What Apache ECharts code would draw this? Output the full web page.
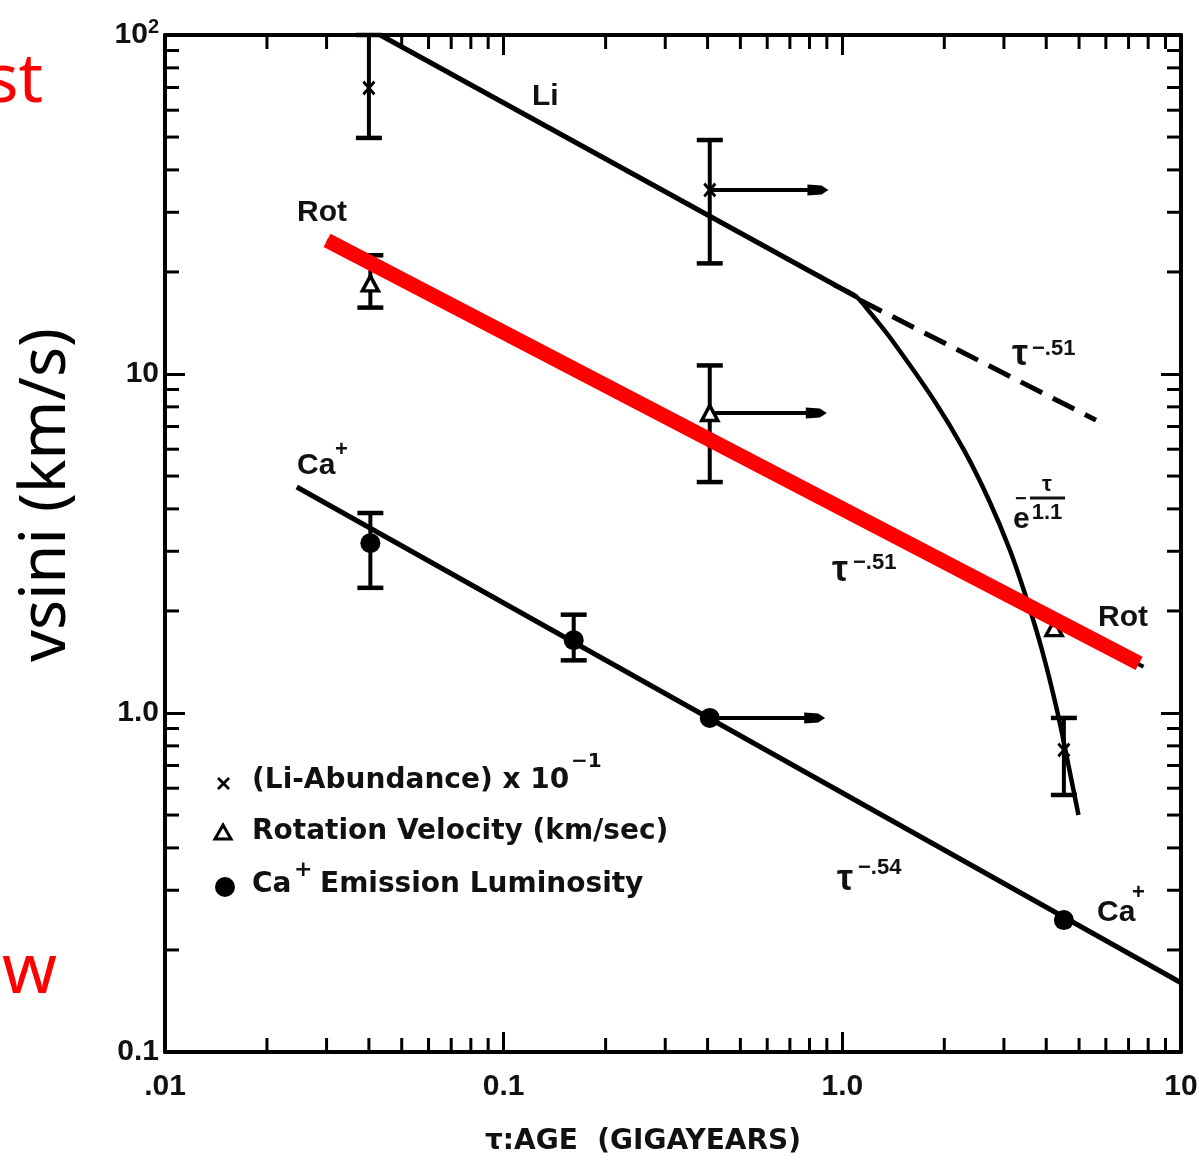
<!DOCTYPE html>
<html><head><meta charset="utf-8">
<script src="https://cdn.jsdelivr.net/npm/echarts@6/dist/echarts.min.js"></script>
<style>html,body{margin:0;padding:0;background:#fff}#c{width:1199px;height:1161px}</style>
</head><body><div id="c"></div><script>
// ---- axis ticks / labels ----
const xDecades = [0.01, 0.1, 1, 10];
const xTickLabels = ['.01', '0.1', '1.0', '10'];
const yDecades = [0.1, 1, 10, 100];
const yTickLabels = ['0.1', '1.0', '10', '{b|10}{s|2}'];
const xMinorTicks = [0.02,0.03,0.04,0.05,0.06,0.07,0.08,0.09,0.2,0.3,0.4,0.5,0.6,0.7,0.8,0.9,2,3,4,5,6,7,8,9];
const yMinorTicks = [0.2,0.3,0.4,0.5,0.6,0.7,0.8,0.9,2,3,4,5,6,7,8,9,20,30,40,50,60,70,80,90];

// ---- fitted lines (age Gyr, value) ----
const liLine = [[0.0432,100],[1.10,16.9]];
const liExpCurve = [[0.943,18.3],[1.10,16.9],[1.2,15.3],[1.40,12.6],[1.863,8.38],[2.285,5.97],[2.708,4.25],[3.124,3.025],[3.509,2.154],[3.886,1.534],[4.303,1.02],[4.638,0.712],[4.981,0.50]];
const liPowerDashed = [[1.13,16.5],[5.61,7.31]];
const rotFitBlack = [[0.0301,24.8],[7.75,1.37]];
const rotFitRed = [[0.0301,24.8],[7.52,1.40]];
const caFit = [[0.0245,4.64],[10,0.16]];

// ---- observations ----
const liPoints = [[0.04,69.8],[0.406,34.9],[4.51,0.778]];
const liErr = [[0.04,49.7,100],[0.406,21.2,49],[4.51,0.573,0.967]];
const rotPoints = [[0.0404,18.5],[0.406,7.67],[4.22,1.78]];
const rotErr = [[0.0404,15.7,22.4],[0.406,4.80,10.6]];
const caPoints = [[0.0404,3.17],[0.161,1.64],[0.406,0.967],[4.51,0.245]];
const caErr = [[0.0404,2.34,3.89],[0.161,1.43,1.95]];
const lowerLimitArrows = [[0.406,34.9,0.91],[0.406,7.67,0.90],[0.406,0.967,0.89]];

const BLK = '#000';
const tickFont = 'Liberation Sans';
const annFont = 'Liberation Sans';
const legFont = 'DejaVu Sans';
const X_PATH = 'path://M0,1.5L1.5,0L5,3.5L8.5,0L10,1.5L6.5,5L10,8.5L8.5,10L5,6.5L1.5,10L0,8.5L3.5,5Z';
const X_SHAPE = [[0,1.5],[1.5,0],[5,3.5],[8.5,0],[10,1.5],[6.5,5],[10,8.5],[8.5,10],[5,6.5],[1.5,10],[0,8.5],[3.5,5]];

function idxOf(arr, v){ let best=0, d=Infinity; arr.forEach((a,i)=>{const dd=Math.abs(Math.log10(a)-Math.log10(v)); if(dd<d){d=dd;best=i;}}); return best; }
function ln(x1,y1,x2,y2,w){ return {type:'line', shape:{x1,y1,x2,y2}, style:{stroke:BLK, lineWidth:w||3}}; }
function txt(x, y, s, size, font, align){
  return {type:'text', x, y, style:{text:s, fill:'#111', font:`bold ${size}px "${font}"`, textAlign:align||'left', textVerticalAlign:'middle'}};
}

const chart = echarts.init(document.getElementById('c'), null, {renderer:'canvas'});

const option = {
  animation:false,
  backgroundColor:'#fff',
  grid:{left:165, right:18, top:35, bottom:109, outerBoundsMode:'none', containLabel:false},
  xAxis:[
    {type:'log', logBase:10, min:0.01, max:10, position:'bottom',
     axisLine:{lineStyle:{color:BLK, width:4}},
     axisTick:{inside:true, length:20, lineStyle:{color:BLK, width:3}},
     axisLabel:{margin:20, color:'#111', fontFamily:tickFont, fontWeight:'bold', fontSize:30,
       formatter:v=>xTickLabels[idxOf(xDecades,v)]},
     splitLine:{show:false},
     name:'τ:AGE  (GIGAYEARS)', nameLocation:'middle', nameGap:76,
     nameTextStyle:{fontFamily:legFont, fontWeight:'bold', fontSize:28, color:'#111', padding:[0,60,0,0]}},
    {type:'log', logBase:10, min:0.01, max:10, position:'top',
     axisLine:{lineStyle:{color:BLK, width:4}},
     axisTick:{inside:true, length:20, lineStyle:{color:BLK, width:3}},
     axisLabel:{show:false}, splitLine:{show:false}}
  ],
  yAxis:[
    {type:'log', logBase:10, min:0.1, max:100, position:'left',
     axisLine:{lineStyle:{color:BLK, width:4}},
     axisTick:{inside:true, length:20, lineStyle:{color:BLK, width:3}},
     axisLabel:{margin:6, color:'#111', fontFamily:tickFont, fontWeight:'bold', fontSize:30,
       formatter:v=>yTickLabels[idxOf(yDecades,v)],
       rich:{b:{fontFamily:tickFont, fontWeight:'bold', fontSize:30, lineHeight:36, color:'#111'},
             s:{fontFamily:tickFont, fontWeight:'bold', fontSize:20, lineHeight:20, verticalAlign:'top', color:'#111'}}},
     splitLine:{show:false},
     name:'vsini (km/s)', nameLocation:'middle', nameGap:86, nameRotate:90,
     nameTextStyle:{fontFamily:'Noto Sans', fontSize:63, color:'#000', padding:[0,0,0,97]}},
    {type:'log', logBase:10, min:0.1, max:100, position:'right',
     axisLine:{lineStyle:{color:BLK, width:4}},
     axisTick:{inside:true, length:20, lineStyle:{color:BLK, width:3}},
     axisLabel:{show:false}, splitLine:{show:false}}
  ],
  series:[
    {type:'custom', name:'minorTicks', silent:true, clip:false, data:[[1,1]], z:1,
     renderItem:(params, api)=>{
       const cs = params.coordSys;
       const L = 14, left=cs.x, right=cs.x+cs.width, top=cs.y, bottom=cs.y+cs.height;
       const kids=[];
       xMinorTicks.forEach(v=>{ const px=api.coord([v,1])[0]; kids.push(ln(px,bottom,px,bottom-L,3)); kids.push(ln(px,top,px,top+L,3)); });
       yMinorTicks.forEach(v=>{ const py=api.coord([1,v])[1]; kids.push(ln(left,py,left+L,py,3)); kids.push(ln(right,py,right-L,py,3)); });
       return {type:'group', children:kids};
     }},
    {type:'line', name:'Li fit', data:liLine, showSymbol:false, lineStyle:{color:BLK, width:5}, z:2},
    {type:'line', name:'Li exp', data:liExpCurve, showSymbol:false, smooth:0.3, lineStyle:{color:BLK, width:4.5}, z:2},
    {type:'line', name:'Li power', data:liPowerDashed, showSymbol:false, lineStyle:{color:BLK, width:5, type:[24,12], cap:'butt'}, z:2},
    {type:'line', name:'Ca fit', data:caFit, showSymbol:false, lineStyle:{color:BLK, width:5}, z:2},
    {type:'line', name:'Rot fit', data:rotFitBlack, showSymbol:false, lineStyle:{color:BLK, width:4}, z:2},
    {type:'custom', name:'errors', data:[...liErr, ...rotErr, ...caErr], encode:{x:0, y:[1,2]}, z:3, clip:false,
     renderItem:(params, api)=>{
       const x=api.value(0), lo=api.value(1), hi=api.value(2);
       const p1=api.coord([x,hi]), p2=api.coord([x,lo]); const w=13;
       return {type:'group', children:[ln(p1[0],p1[1],p2[0],p2[1],4), ln(p1[0]-w,p1[1],p1[0]+w,p1[1],4.5), ln(p2[0]-w,p2[1],p2[0]+w,p2[1],4.5)]};
     }},
    {type:'custom', name:'limits', data:lowerLimitArrows, encode:{x:[0,2], y:1}, z:3,
     renderItem:(params, api)=>{
       const x1=api.value(0), y=api.value(1), x2=api.value(2);
       const a=api.coord([x1,y]), b=api.coord([x2,y]);
       return {type:'group', children:[
         ln(a[0],a[1],b[0]-14,b[1],4),
         {type:'polygon', shape:{points:[[b[0],b[1]],[b[0]-7,b[1]-4.5],[b[0]-21,b[1]-5.5],[b[0]-21,b[1]+5.5],[b[0]-7,b[1]+4.5]]}, style:{fill:BLK}}
       ]};
     }},
    {type:'scatter', name:'(Li-Abundance) x 10^-1', data:liPoints, symbol:X_PATH, symbolSize:[13,15], itemStyle:{color:BLK, opacity:1}, z:4},
    {type:'scatter', name:'Rotation Velocity (km/sec)', data:rotPoints, symbol:'triangle', symbolSize:[16,15], itemStyle:{color:'#fff', borderColor:BLK, borderWidth:3.5, opacity:1}, z:4},
    {type:'scatter', name:'Ca+ Emission Luminosity', data:caPoints, symbol:'circle', symbolSize:20, itemStyle:{color:BLK, opacity:1}, z:4},
    {type:'line', name:'Rot highlight', data:rotFitRed, showSymbol:false, lineStyle:{color:'#ff0000', width:15, cap:'butt'}, z:6}
  ],
  graphic:[
    {type:'text', x:43, y:117, style:{text:'st', fill:'#ff0000', font:'68px "Noto Sans"', textAlign:'right', textVerticalAlign:'bottom'}},
    {type:'text', x:2, y:1008, style:{text:'w', fill:'#ff0000', font:'70px "Noto Sans"', textAlign:'left', textVerticalAlign:'bottom'}},
    txt(532, 97, 'Li', 30, annFont),
    txt(297, 213, 'Rot', 30, annFont),
    txt(297, 466, 'Ca', 30, annFont), txt(335, 450, '+', 22, annFont),
    txt(1012, 355, 'τ', 36, annFont), txt(1032, 349, '−.51', 22, annFont),
    txt(1013, 520, 'e', 30, annFont), txt(1015, 499, '−', 20, annFont),
    txt(1047, 485, 'τ', 22, annFont, 'center'),
    {type:'line', shape:{x1:1030, y1:498, x2:1065, y2:498}, style:{stroke:'#111', lineWidth:3}},
    txt(1047, 513, '1.1', 22, annFont, 'center'),
    txt(832, 571, 'τ', 36, annFont), txt(853, 563, '−.51', 22, annFont),
    txt(1098, 618, 'Rot', 30, annFont),
    txt(837, 880, 'τ', 36, annFont), txt(858, 868, '−.54', 22, annFont),
    txt(1097, 913, 'Ca', 30, annFont), txt(1132, 893, '+', 22, annFont),
    {type:'polygon', shape:{points:X_SHAPE.map(p=>[217+p[0]*1.3, 777+p[1]*1.3])}, style:{fill:BLK}},
    txt(252, 781, '(Li-Abundance) x 10', 28, legFont), txt(571, 762, '−1', 20, legFont),
    {type:'polygon', shape:{points:[[223,825],[215,839],[231,839]]}, style:{fill:'#fff', stroke:BLK, lineWidth:3}},
    txt(252, 832, 'Rotation Velocity (km/sec)', 28, legFont),
    {type:'circle', shape:{cx:225, cy:887, r:10}, style:{fill:BLK}},
    txt(252, 885, 'Ca', 28, legFont), txt(294, 870, '+', 22, legFont), txt(320, 885, 'Emission Luminosity', 28, legFont)
  ]
};
chart.setOption(option);
</script></body></html>
